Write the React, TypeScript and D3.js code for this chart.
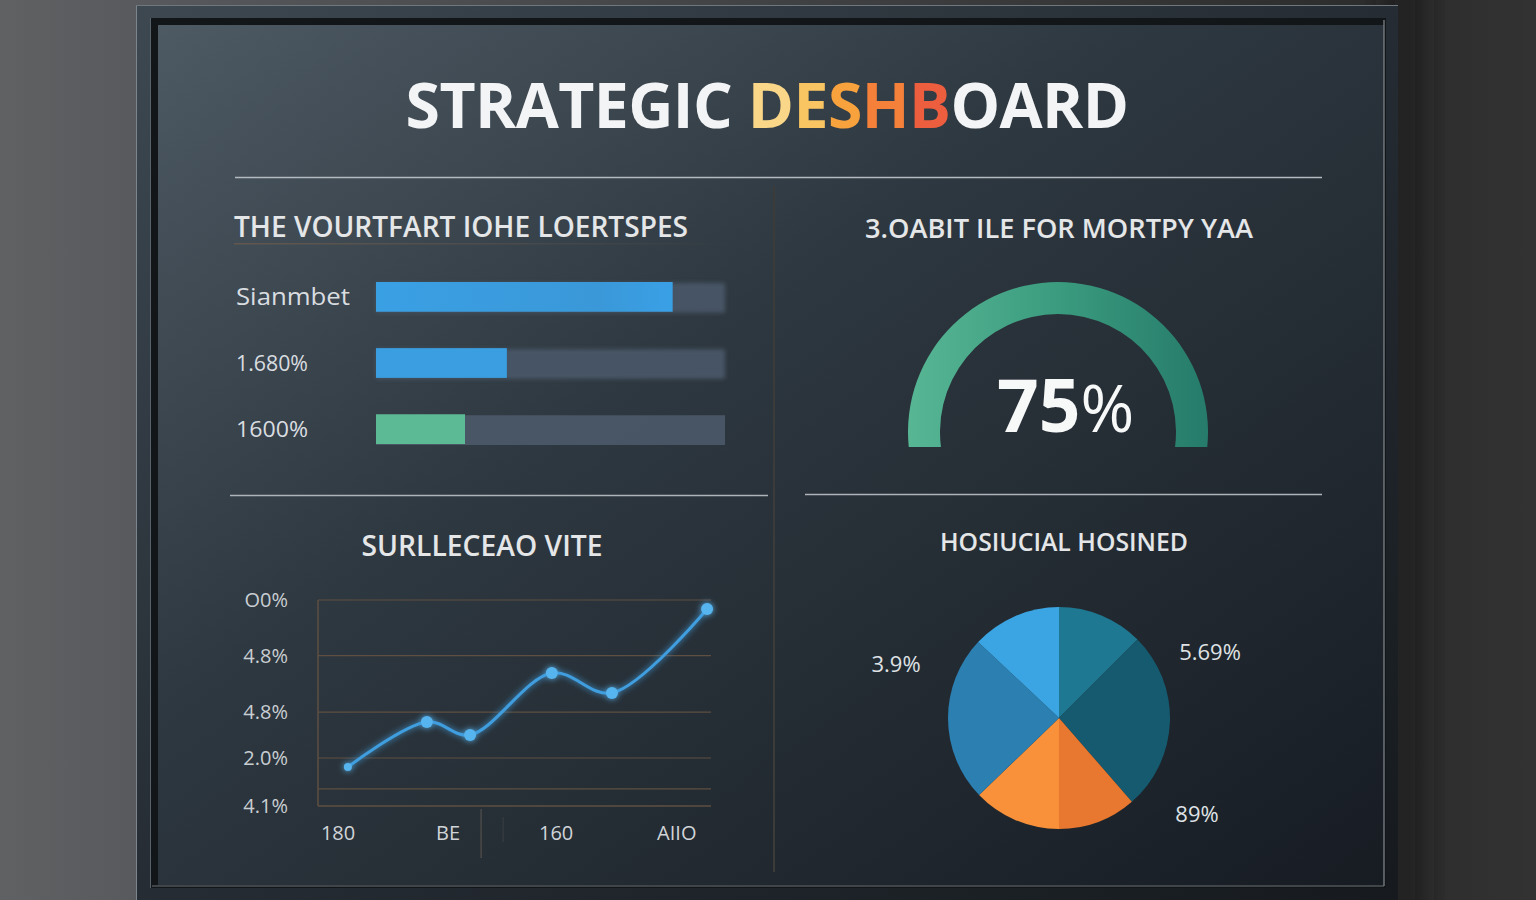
import React from "react";
import * as d3 from "d3";

// ---------- DATA ----------
const titleParts = ["STRATEGIC ", "D", "E", "S", "H", "B", "OARD"];
const titleColors = ["#f3f4f5", "#f9d688", "#f9c462", "#f8a23e", "#f5803a", "#ec5e3e", "#f3f4f5"];

const barTitle = "THE VOURTFART IOHE LOERTSPES";
const barLabels = ["Sianmbet", "1.680%", "1600%"];
const barValues = [0.85, 0.375, 0.255];
const barColors = ["#3a9fe2", "#3a9ee0", "#5cba94"];

const gaugeTitle = "3.OABIT ILE FOR MORTPY YAA";
const gaugeValue = 75;

const lineTitle = "SURLLECEAO VITE";
const lineX = [7.6, 27.7, 38.7, 59.5, 74.8, 99];
const lineY = [18.9, 40.8, 34.5, 64.6, 54.9, 95.6];
const yTickValues = [100, 73, 45.6, 23.3, 0];
const yTickLabels = ["O0%", "4.8%", "4.8%", "2.0%", "4.1%"];
const gridValues = [100, 73, 45.6, 23.3, 8.3];
const xTickValues = [5.1, 33.1, 60.6, 91.3];
const xTickLabels = ["180", "BE", "160", "AIIO"];
const xSeparators = [41.5];

const pieTitle = "HOSIUCIAL HOSINED";
const pieValues = [12.5, 26.1, 11.4, 12.8, 24.2, 13.0];
const pieColors = ["#1f7891", "#155a6e", "#e8782f", "#f8913a", "#2b7fb1", "#3ba4e2"];
const pieLabels = ["3.9%", "5.69%", "89%"];

// ---------- LAYOUT ----------
const W = 1536, H = 900;
const FONT = "'Open Sans', 'Noto Sans', sans-serif";

export default function App() {
  // bars
  const barY = d3.scaleBand<string>().domain(barLabels).range([282, 444]).paddingInner(0.55);
  const barX = d3.scaleLinear().domain([0, 1]).range([376, 725]);

  // gauge
  const gCx = 1058, gCy = 432;
  const gaugeArc = d3.arc()({
    innerRadius: 118, outerRadius: 150,
    startAngle: (-102 * Math.PI) / 180, endAngle: (102 * Math.PI) / 180,
  } as any) as string;

  // line chart
  const lx = d3.scaleLinear().domain([0, 100]).range([318, 711]);
  const ly = d3.scaleLinear().domain([0, 100]).range([806, 600]);
  const pts = lineX.map((v, i) => [lx(v), ly(lineY[i])] as [number, number]);
  const linePath = d3.line().curve(d3.curveCatmullRom.alpha(0.5))(pts) as string;

  // pie
  const pCx = 1059, pCy = 718, pR = 111;
  const arcs = d3.pie<number>().sort(null)(pieValues);
  const arcGen = d3.arc<d3.PieArcDatum<number>>().innerRadius(0).outerRadius(pR);
  const pieLabelPos = [
    { x: 896, y: 672 },
    { x: 1210, y: 660 },
    { x: 1197, y: 822 },
  ];

  return (
    <svg width={W} height={H} style={{ position: "fixed", left: 0, top: 0, display: "block" }}>
      <defs>
        <linearGradient id="bg" x1="0" y1="0" x2="1" y2="0">
          <stop offset="0" stopColor="#5f6163" />
          <stop offset="0.12" stopColor="#55575a" />
          <stop offset="0.9" stopColor="#2c2c2c" />
          <stop offset="1" stopColor="#323232" />
        </linearGradient>
        <linearGradient id="frame" x1="0" y1="0" x2="1" y2="1">
          <stop offset="0" stopColor="#3d4851" />
          <stop offset="0.5" stopColor="#252c33" />
          <stop offset="1" stopColor="#161a1e" />
        </linearGradient>
        <linearGradient id="panel" x1="0" y1="0" x2="1" y2="1">
          <stop offset="0" stopColor="#4d5963" />
          <stop offset="0.4" stopColor="#2e3840" />
          <stop offset="1" stopColor="#171c23" />
        </linearGradient>
        <linearGradient id="gauge" gradientUnits="userSpaceOnUse" x1="-150" y1="0" x2="150" y2="0">
          <stop offset="0" stopColor="#57b694" />
          <stop offset="0.5" stopColor="#3a9b7e" />
          <stop offset="1" stopColor="#267b6a" />
        </linearGradient>
        <linearGradient id="bar1" x1="0" y1="0" x2="1" y2="0">
          <stop offset="0" stopColor="#3aa0e4" />
          <stop offset="0.75" stopColor="#3a98d8" />
          <stop offset="1" stopColor="#3aa0e6" />
        </linearGradient>
        <linearGradient id="divLine" x1="0" y1="0" x2="1" y2="0">
          <stop offset="0" stopColor="#6a5a4c" stopOpacity="0.8" />
          <stop offset="1" stopColor="#6a5a4c" stopOpacity="0" />
        </linearGradient>
        <clipPath id="gaugeClip">
          <rect x={880} y={260} width={360} height={187} />
        </clipPath>
        <filter id="glow" x="-20%" y="-20%" width="140%" height="140%">
          <feGaussianBlur stdDeviation="3" result="b" />
          <feMerge>
            <feMergeNode in="b" />
            <feMergeNode in="SourceGraphic" />
          </feMerge>
        </filter>
        <filter id="soft" x="-10%" y="-30%" width="120%" height="160%">
          <feGaussianBlur stdDeviation="2" />
        </filter>
        <filter id="shadow" x="-50%" y="-10%" width="200%" height="130%">
          <feGaussianBlur stdDeviation="14" />
        </filter>
      </defs>

      {/* background wall */}
      <rect x={0} y={0} width={W} height={H} fill="url(#bg)" />
      <rect x={1385} y={-40} width={40} height={1000} fill="#141414" opacity={0.55} filter="url(#shadow)" />

      {/* frame */}
      <rect x={136} y={5} width={1262} height={905} fill="url(#frame)" />
      <line x1={136.5} y1={5} x2={136.5} y2={900} stroke="#7c858c" strokeWidth={1} />
      <line x1={136} y1={5.5} x2={1398} y2={5.5} stroke="#6f787f" strokeWidth={1} />
      <rect x={150} y={18} width={1236} height={870} fill="#121619" />
      <line x1={150.5} y1={18} x2={150.5} y2={888} stroke="#56616a" strokeWidth={1} />
      <rect x={158} y={25} width={1226} height={860} fill="url(#panel)" />
      <line x1={1384} y1={20} x2={1384} y2={886} stroke="#858b90" strokeWidth={1.2} />
      <line x1={152} y1={886} x2={1384} y2={886} stroke="#6e757b" strokeWidth={1.2} />

      {/* main title */}
      <text x={767} y={128} textAnchor="middle" fontFamily={FONT} fontWeight={700} fontSize={62.5}
        letterSpacing={-0.6}>
        {titleParts.map((t, i) => (
          <tspan key={i} fill={titleColors[i]} style={{ whiteSpace: "pre" }}>{t}</tspan>
        ))}
      </text>
      <line x1={235} y1={177.5} x2={1322} y2={177.5} stroke="#b4babf" strokeWidth={1.5} />

      {/* dividers */}
      <line x1={774} y1={186} x2={774} y2={872} stroke="#3b3b39" strokeWidth={2} />
      <line x1={230} y1={495.5} x2={768} y2={495.5} stroke="#aeb4b9" strokeWidth={1.5} />
      <line x1={805} y1={494.5} x2={1322} y2={494.5} stroke="#aeb4b9" strokeWidth={1.5} />

      {/* ---- bar panel ---- */}
      <text x={234} y={237} fontFamily={FONT} fontWeight={600} fontSize={28} fill="#e4e6e8"
        textLength={454} lengthAdjust="spacingAndGlyphs">{barTitle}</text>
      <rect x={234} y={243} width={502} height={1.5} fill="url(#divLine)" />
      {barLabels.map((lab, i) => {
        const y0 = barY(lab) as number;
        const bw = barY.bandwidth();
        return (
          <g key={lab}>
            <rect x={barX(0)} y={y0 + 1} width={barX(1) - barX(0)} height={bw} fill="#4a5767"
              filter={i < 2 ? "url(#soft)" : undefined} opacity={0.95} />
            <rect x={barX(0)} y={y0} width={barX(barValues[i]) - barX(0)} height={bw}
              fill={i === 0 ? "url(#bar1)" : barColors[i]} />
            <text x={236} y={y0 + bw / 2 + 8} fontFamily={FONT} fontSize={i === 0 ? 23 : 21}
              fill="#d9dde0" textLength={i === 0 ? 114 : 72} lengthAdjust="spacingAndGlyphs">{lab}</text>
          </g>
        );
      })}

      {/* ---- gauge panel ---- */}
      <text x={1059} y={238} textAnchor="middle" fontFamily={FONT} fontWeight={600} fontSize={27}
        fill="#e4e6e8" textLength={388} lengthAdjust="spacingAndGlyphs">{gaugeTitle}</text>
      <g clipPath="url(#gaugeClip)">
        <path d={gaugeArc} transform={`translate(${gCx},${gCy})`} fill="url(#gauge)" />
      </g>
      <text x={997} y={432} fontFamily={FONT} fill="#f7f8f8">
        <tspan fontWeight={700} fontSize={73}>{gaugeValue}</tspan>
        <tspan fontWeight={400} fontSize={65}>%</tspan>
      </text>

      {/* ---- line panel ---- */}
      <text x={482} y={556} textAnchor="middle" fontFamily={FONT} fontWeight={600} fontSize={29}
        fill="#e4e6e8" textLength={241} lengthAdjust="spacingAndGlyphs">{lineTitle}</text>
      {gridValues.map((v, i) => (
        <line key={i} x1={lx(0)} x2={lx(100)} y1={ly(v)} y2={ly(v)} stroke="#5e4f42" strokeWidth={1.2} />
      ))}
      <line x1={lx(0)} x2={lx(100)} y1={ly(0)} y2={ly(0)} stroke="#5e4f42" strokeWidth={1.5} />
      <line x1={lx(0)} x2={lx(0)} y1={ly(100)} y2={ly(0)} stroke="#5e4f42" strokeWidth={1.5} />
      {yTickValues.map((v, i) => (
        <text key={i} x={288} y={ly(v) + 7} textAnchor="end" fontFamily={FONT} fontSize={20}
          fill="#c9ced2">{yTickLabels[i]}</text>
      ))}
      {xTickValues.map((v, i) => (
        <text key={i} x={lx(v)} y={840} textAnchor="middle" fontFamily={FONT} fontSize={20}
          fill="#d0d4d8">{xTickLabels[i]}</text>
      ))}
      {xSeparators.map((v, i) => (
        <g key={i}>
          <line x1={lx(v)} x2={lx(v)} y1={809} y2={858} stroke="#4a4a48" strokeWidth={1.5} />
          <line x1={lx(v) + 22} x2={lx(v) + 22} y1={817} y2={842} stroke="#3c4046" strokeWidth={1} />
        </g>
      ))}
      <g filter="url(#glow)">
        <path d={linePath} fill="none" stroke="#3f9edf" strokeWidth={3} strokeLinejoin="round" />
        {pts.map((p, i) => (
          <circle key={i} cx={p[0]} cy={p[1]} r={i === 0 ? 4 : 6} fill="#57b4ee" />
        ))}
      </g>

      {/* ---- pie panel ---- */}
      <text x={1064} y={551} textAnchor="middle" fontFamily={FONT} fontWeight={600} fontSize={25}
        fill="#e4e6e8" textLength={248} lengthAdjust="spacingAndGlyphs">{pieTitle}</text>
      <g transform={`translate(${pCx},${pCy})`}>
        {arcs.map((a, i) => (
          <path key={i} d={arcGen(a) as string} fill={pieColors[i]} />
        ))}
      </g>
      {pieLabels.map((t, i) => (
        <text key={i} x={pieLabelPos[i].x} y={pieLabelPos[i].y} textAnchor="middle" fontFamily={FONT}
          fontSize={22} fill="#dfe2e5">{t}</text>
      ))}
    </svg>
  );
}
